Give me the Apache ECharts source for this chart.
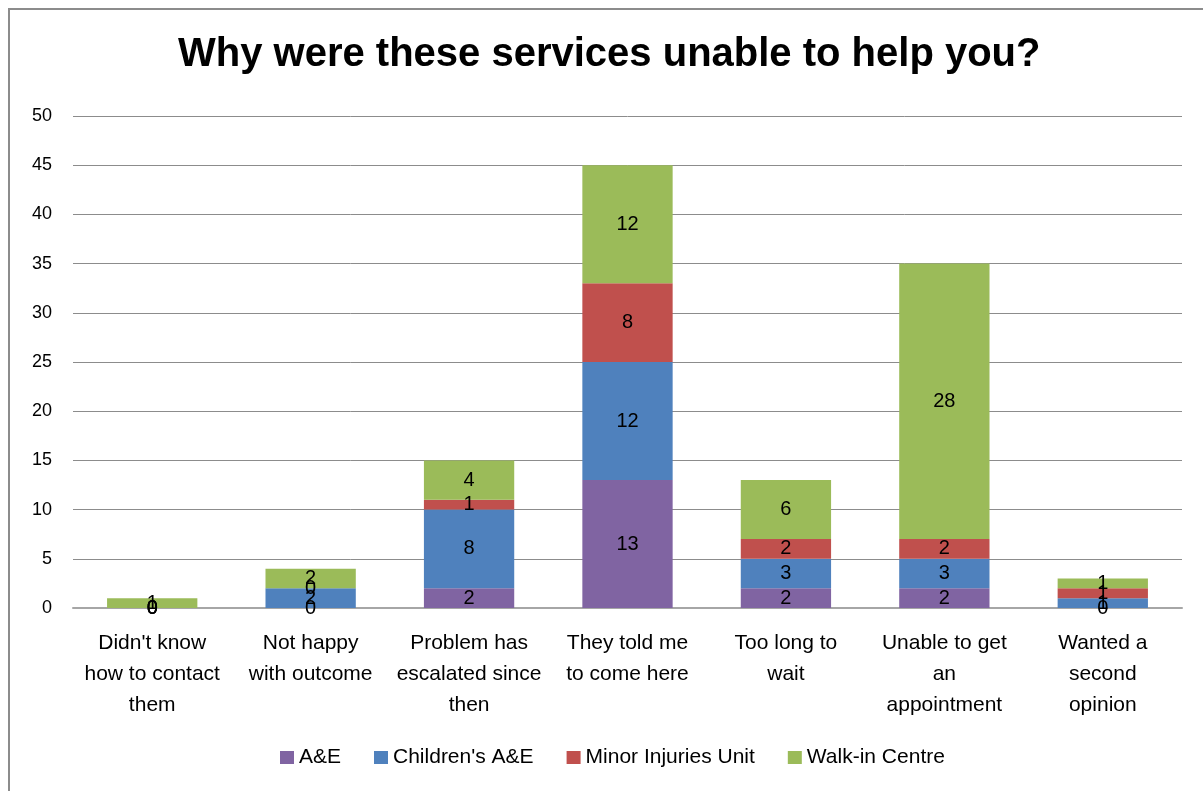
<!DOCTYPE html>
<html>
<head>
<meta charset="utf-8">
<script src="https://cdn.jsdelivr.net/npm/echarts@6/dist/echarts.min.js"></script>
<style>
  html, body { margin: 0; padding: 0; background: #fff; }
  #frame { position: absolute; left: 8px; top: 8px; width: 1195px; height: 783px;
           border-left: 2px solid #8c8c8c; border-top: 2px solid #8c8c8c; box-sizing: border-box; }
  #chart { position: absolute; left: 0; top: 0; width: 1203px; height: 791px; }
</style>
</head>
<body>
<div id="frame"></div>
<div id="chart"></div>
<script>
(function () {
    'use strict';

    var categories = [
        "Didn't know\nhow to contact\nthem",
        'Not happy\nwith outcome',
        'Problem has\nescalated since\nthen',
        'They told me\nto come here',
        'Too long to\nwait',
        'Unable to get\nan\nappointment',
        'Wanted a\nsecond\nopinion'
    ];
    var seriesNames = ['A&E', "Children's A&E", 'Minor Injuries Unit', 'Walk-in Centre'];
    var aAndE       = [0, 0, 2, 13, 2, 2, 0];
    var childrens   = [0, 2, 8, 12, 3, 3, 1];
    var minorInj    = [0, 0, 1, 8, 2, 2, 1];
    var walkIn      = [1, 2, 4, 12, 6, 28, 1];
    var yTicks      = { min: 0, max: 50, interval: 5 };

    var COLORS = ['#8064A2', '#4F81BD', '#C0504D', '#9BBB59'];
    var FONT = '"Liberation Sans", Arial, sans-serif';
    var values = [aAndE, childrens, minorInj, walkIn];

    var chart = echarts.init(document.getElementById('chart'));

    chart.setOption({
        animation: false,
        title: {
            text: 'Why were these services unable to help you?',
            left: 173, top: 30,
            textStyle: { fontFamily: FONT, fontSize: 40, fontWeight: 'bold', color: '#000' }
        },
        legend: {
            data: seriesNames,
            bottom: 18, left: 275,
            icon: 'rect', itemWidth: 14, itemHeight: 13, itemGap: 33,
            textStyle: { fontFamily: FONT, fontSize: 21, color: '#000' }
        },
        grid: { left: 73, right: 21, top: 116, bottom: 183, containLabel: false },
        xAxis: {
            type: 'category',
            data: categories,
            axisLine: { lineStyle: { color: '#a6a6a6', width: 2 } },
            axisTick: { show: false },
            axisLabel: { interval: 0, margin: 20, lineHeight: 31, fontFamily: FONT, fontSize: 21, color: '#000' }
        },
        yAxis: {
            type: 'value',
            min: yTicks.min, max: yTicks.max, interval: yTicks.interval,
            axisLine: { show: false },
            axisTick: { show: false },
            splitLine: { lineStyle: { color: '#8c8c8c', width: 1 } },
            axisLabel: { margin: 21, fontFamily: FONT, fontSize: 18, color: '#000' }
        },
        series: seriesNames.map(function (name, i) {
            return {
                name: name,
                type: 'bar',
                stack: 'total',
                barWidth: '57%',
                data: values[i],
                itemStyle: { color: COLORS[i] },
                label: {
                    show: true, position: 'inside',
                    fontFamily: FONT, fontSize: 20, color: '#000'
                }
            };
        })
    });
})();
</script>
</body>
</html>
